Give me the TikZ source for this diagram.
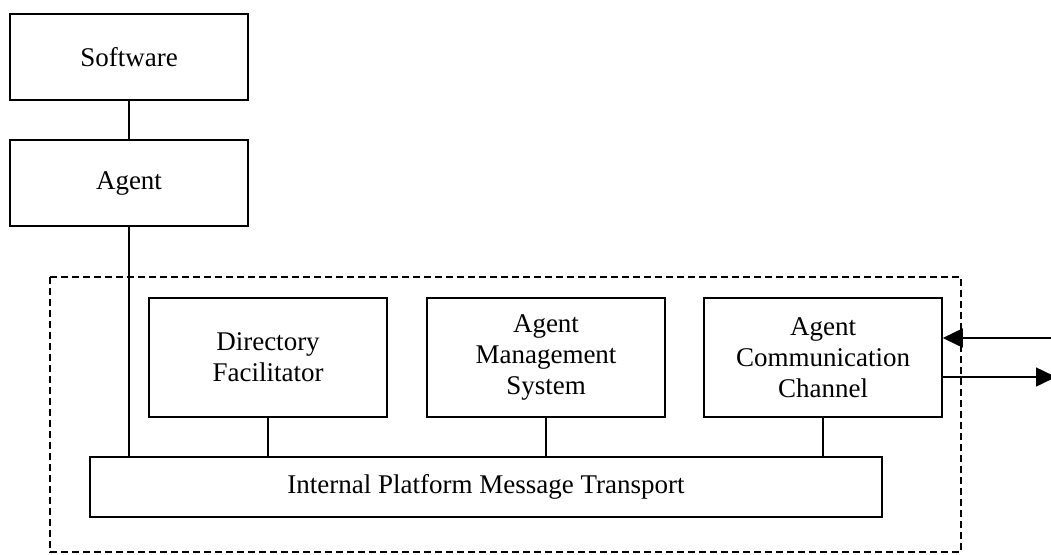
\documentclass[tikz,border=0pt]{standalone}
\usepackage{fontspec}
\setmainfont{Liberation Serif}
\usepackage{tikz}
\usetikzlibrary{arrows.meta}
\tikzset{every picture/.style={line width=1.5pt}}
\tikzset{blockbox/.style={draw, rectangle, inner sep=0pt, align=center, minimum width=238pt, font=\fontsize{27}{31}\selectfont}}

\begin{document}
\begin{tikzpicture}[x=1pt,y=1pt,yscale=-1]
\useasboundingbox (0,0) rectangle (1051,554);

%Shape: Rectangle [id:software]
\node [blockbox, minimum height=86pt] (Software) at (129,57) {Software};
%Shape: Rectangle [id:agent]
\node [blockbox, minimum height=86pt] (Agent) at (129,183) {Agent};
%Shape: Rectangle [id:platform]
\draw [line width=2pt, dash pattern=on 7pt off 4pt] (50,277) rectangle (961,552);
%Shape: Rectangle [id:df]
\node [blockbox, minimum height=119pt] (DF) at (268,357.5) {Directory\\Facilitator};
%Shape: Rectangle [id:ams]
\node [blockbox, minimum height=119pt] (AMS) at (546,357.5) {Agent\\Management\\System};
%Shape: Rectangle [id:acc]
\node [blockbox, minimum height=119pt] (ACC) at (823,357.5) {Agent\\Communication\\Channel};
%Shape: Rectangle [id:ipmt]
\node [blockbox, minimum height=60pt, minimum width=792pt] (IPMT) at (486,487) {Internal Platform Message Transport};

%Straight Lines
\draw (Software.south) -- (Agent.north) ;
\draw (Agent.south) -- (Agent.south |- IPMT.north) ;
\draw (DF.south) -- (DF.south |- IPMT.north) ;
\draw (AMS.south) -- (AMS.south |- IPMT.north) ;
\draw (ACC.south) -- (ACC.south |- IPMT.north) ;

%Arrows to the outside
\coordinate (inR) at (1051,338);
\coordinate (outR) at (1056,377);
\draw [-{Triangle[length=20pt,width=19pt]}] (inR) -- (ACC.east |- inR) ;
\draw [-{Triangle[length=20pt,width=19pt]}] (ACC.east |- outR) -- (outR) ;
\end{tikzpicture}
\end{document}
